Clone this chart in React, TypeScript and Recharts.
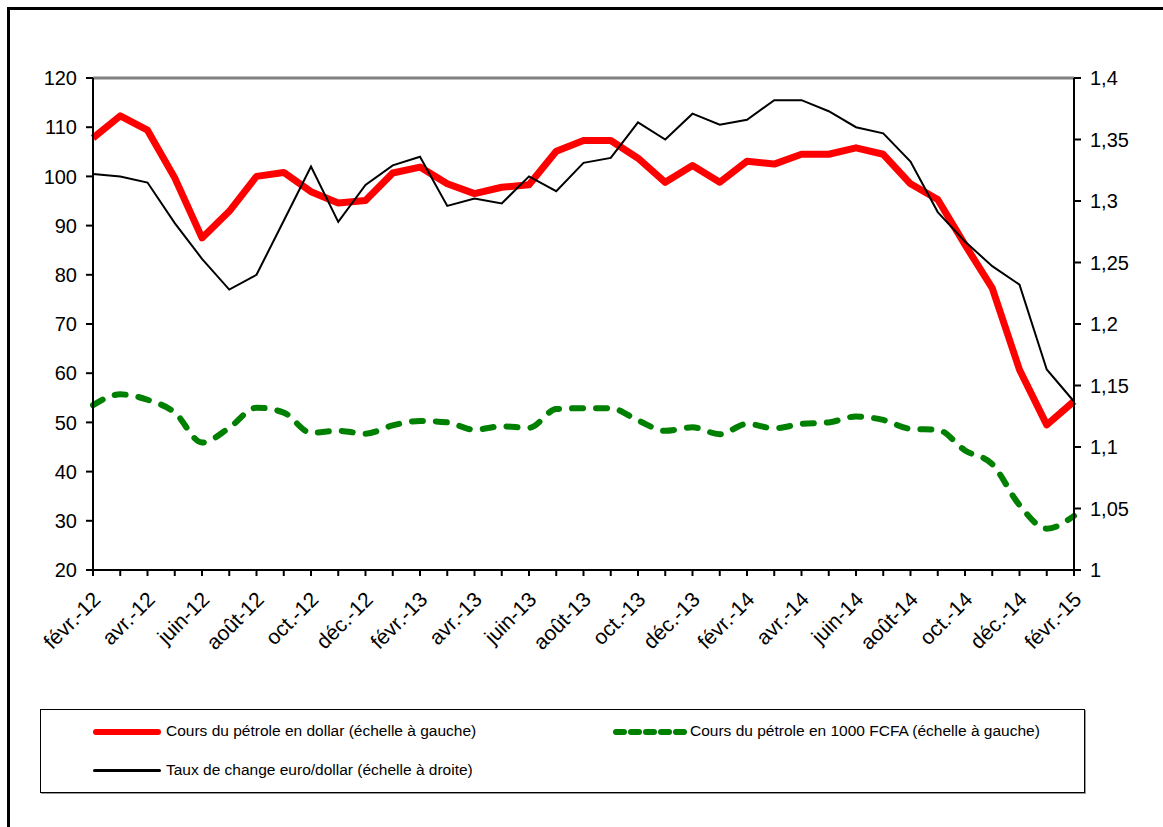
import React from "react";
import { LineChart, Line, XAxis, YAxis, ReferenceLine } from "recharts";

// mois, de févr. 2012 à févr. 2015
const months = [
  "févr.-12", "mars-12", "avr.-12", "mai-12", "juin-12", "juil.-12", "août-12", "sept.-12", "oct.-12", "nov.-12", "déc.-12", "janv.-13",
  "févr.-13", "mars-13", "avr.-13", "mai-13", "juin-13", "juil.-13", "août-13", "sept.-13", "oct.-13", "nov.-13", "déc.-13", "janv.-14",
  "févr.-14", "mars-14", "avr.-14", "mai-14", "juin-14", "juil.-14", "août-14", "sept.-14", "oct.-14", "nov.-14", "déc.-14", "janv.-15",
  "févr.-15",
];

// cours du pétrole en dollar (échelle à gauche)
const petroleDollar = [
  107.8, 112.3, 109.4, 99.7, 87.5, 92.9, 100.0, 100.8, 96.9, 94.6, 95.1, 100.7,
  101.9, 98.5, 96.5, 97.8, 98.3, 105.1, 107.3, 107.3, 103.7, 98.8, 102.2, 98.8,
  103.1, 102.5, 104.5, 104.5, 105.8, 104.5, 98.5, 95.3, 86.1, 77.3, 60.7, 49.5,
  54.3,
];

// cours du pétrole en 1000 FCFA (échelle à gauche)
const petroleFcfa = [
  53.5, 55.7, 54.6, 52.0, 45.9, 48.9, 53.0, 52.0, 47.9, 48.3, 47.7, 49.4,
  50.3, 50.0, 48.5, 49.2, 48.9, 52.7, 52.9, 52.9, 50.4, 48.3, 49.0, 47.6,
  49.7, 48.8, 49.7, 50.0, 51.2, 50.5, 48.7, 48.5, 44.3, 41.5, 33.2, 28.4,
  31.0,
];

// taux de change euro/dollar (échelle à droite)
const tauxChange = [
  1.322, 1.32, 1.315, 1.282, 1.253, 1.228, 1.24, 1.284, 1.328, 1.283, 1.313, 1.329,
  1.336, 1.296, 1.302, 1.298, 1.32, 1.308, 1.331, 1.335, 1.364, 1.35, 1.371, 1.362,
  1.366, 1.382, 1.382, 1.373, 1.36, 1.355, 1.332, 1.291, 1.267, 1.247, 1.232, 1.163,
  1.137,
];

const leftTicks = [20, 30, 40, 50, 60, 70, 80, 90, 100, 110, 120];
const rightTicks = [1, 1.05, 1.1, 1.15, 1.2, 1.25, 1.3, 1.35, 1.4];

const data = months.map((m, i) => ({
  mois: m,
  dollar: petroleDollar[i],
  fcfa: petroleFcfa[i],
  taux: tauxChange[i],
}));

const FONT = "'Liberation Sans', Arial, sans-serif";

function MonthTick(props: any) {
  const { x, y, payload, index } = props;
  if (index % 2 !== 0) return null;
  const ax = x - 2;
  const ay = y + 12;
  return (
    <text
      x={ax}
      y={ay}
      textAnchor="end"
      fontSize={21}
      fontFamily={FONT}
      fill="#000"
      transform={`rotate(-45, ${ax}, ${ay})`}
      dominantBaseline="hanging"
    >
      {payload.value}
    </text>
  );
}

const fmtRight = (v: number) => String(Math.round(v * 100) / 100).replace(".", ",");

export default function App() {
  return (
    <div style={{ position: "absolute", left: 0, top: 0, width: 1163, height: 827, background: "#fff", overflow: "hidden", fontFamily: FONT }}>
      {/* cadre */}
      <div style={{ position: "absolute", left: 7, top: 7, width: 1200, height: 900, borderLeft: "3px solid #000", borderTop: "3px solid #000" }} />

      <div style={{ position: "absolute", left: 0, top: 0 }}>
        <LineChart width={1163} height={680} data={data} margin={{ top: 78, right: 0, left: 0, bottom: 0 }}>
          <XAxis
            dataKey="mois"
            interval={0}
            height={110}
            tick={<MonthTick />}
            tickSize={6}
            stroke="#000"
            strokeWidth={2}
          />
          <YAxis
            yAxisId="left"
            domain={[20, 120]}
            ticks={leftTicks}
            width={93}
            tickSize={7}
            tickMargin={9}
            stroke="#000"
            strokeWidth={2}
            tick={{ fill: "#000", fontSize: 20, fontFamily: FONT }}
            interval={0}
          />
          <YAxis
            yAxisId="right"
            orientation="right"
            domain={[1, 1.4]}
            ticks={rightTicks}
            width={89}
            tickSize={7}
            tickMargin={9}
            stroke="#000"
            strokeWidth={2}
            tick={{ fill: "#000", fontSize: 20, fontFamily: FONT, textAnchor: "start" }}
            tickFormatter={fmtRight}
            interval={0}
          />
          <ReferenceLine yAxisId="left" y={120} stroke="#808080" strokeWidth={3} />
          <Line
            yAxisId="left"
            type="monotone"
            dataKey="fcfa"
            stroke="#008000"
            strokeWidth={6}
            strokeDasharray="11 13"
            strokeLinecap="round"
            dot={false}
            isAnimationActive={false}
          />
          <Line
            yAxisId="left"
            type="linear"
            dataKey="dollar"
            stroke="#ff0000"
            strokeWidth={7}
            strokeLinejoin="round"
            dot={false}
            isAnimationActive={false}
          />
          <Line
            yAxisId="right"
            type="linear"
            dataKey="taux"
            stroke="#000"
            strokeWidth={2}
            dot={false}
            isAnimationActive={false}
          />
        </LineChart>
      </div>

      {/* légende */}
      <div
        style={{
          position: "absolute",
          left: 40,
          top: 709,
          width: 1043,
          height: 82,
          border: "1px solid #000",
          boxShadow: "1px 1px 0 #999",
          fontSize: 15.5,
          color: "#000",
        }}
      >
        <div style={{ position: "absolute", left: 52, top: 19, width: 68, height: 6, background: "#ff0000", borderRadius: 3 }} />
        <div style={{ position: "absolute", left: 125, top: 12 }}>Cours du pétrole en dollar (échelle à gauche)</div>
        <svg style={{ position: "absolute", left: 571, top: 17 }} width={80} height={10}>
          <line x1={4} y1={5} x2={74} y2={5} stroke="#008000" strokeWidth={6} strokeDasharray="8 7" strokeLinecap="round" />
        </svg>
        <div style={{ position: "absolute", left: 649, top: 12 }}>Cours du pétrole en 1000 FCFA (échelle à gauche)</div>
        <div style={{ position: "absolute", left: 52, top: 59, width: 68, height: 3, background: "#000", borderRadius: 2 }} />
        <div style={{ position: "absolute", left: 125, top: 51 }}>Taux de change euro/dollar (échelle à droite)</div>
      </div>
    </div>
  );
}
